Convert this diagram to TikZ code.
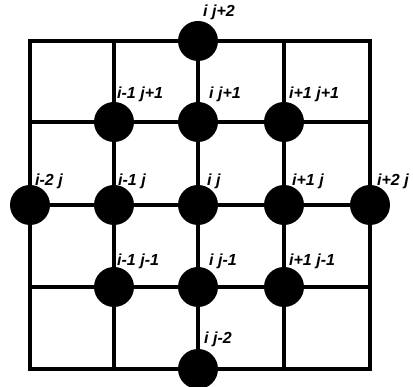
\documentclass[tikz,border=0pt]{standalone}
\usepackage{fontspec}
\setmainfont{Liberation Sans}
\usepackage{tikz}
\usetikzlibrary{positioning,calc}

\begin{document}
\begin{tikzpicture}[x=1pt,y=-1pt,
  gridline/.style={line width=3.5pt, line cap=rect},
  site/.style={circle, fill=black, minimum size=40pt, inner sep=0pt},
  lbl/.style={font=\bfseries\itshape\fontsize{16}{16}\selectfont, anchor=south west, inner sep=0pt}]
\useasboundingbox (0,0) rectangle (413,387);
% mesh
\foreach \x in {30,114,198,284,370}
  \draw[gridline] (\x,41) -- (\x,369);
\foreach \y in {41,122,205,287,369}
  \draw[gridline] (30,\y) -- (370,\y);
% stencil points
\node[site] (n02) at (198,41) {};
\node[site] (m11) at (114,122) {};
\node[site] (n01) at (198,122) {};
\node[site] (p11) at (284,122) {};
\node[site] (m20) at (30,205) {};
\node[site] (m10) at (114,205) {};
\node[site] (n00) at (198,205) {};
\node[site] (p10) at (284,205) {};
\node[site] (p20) at (370,205) {};
\node[site] (m1m1) at (114,287) {};
\node[site] (n0m1) at (198,287) {};
\node[site] (p1m1) at (284,287) {};
\node[site] (n0m2) at (198,369) {};
% indices
\node[lbl] (ln02) at (203,20) {i j+2};
\node[lbl] (lm11) at (117,102) {i-1 j+1};
\node[lbl] (ln01) at (209,102) {i j+1};
\node[lbl] (lp11) at (289,102) {i+1 j+1};
\node[lbl] (lm20) at (35,189) {i-2 j};
\node[lbl] (lm10) at (118,189) {i-1 j};
\node[lbl] (ln00) at (207,189) {i j};
\node[lbl] (lp10) at (292,189) {i+1 j};
\node[lbl] (lp20) at (377,189) {i+2 j};
\node[lbl] (lm1m1) at (117,269) {i-1 j-1};
\node[lbl] (ln0m1) at (209,269) {i j-1};
\node[lbl] (lp1m1) at (289,269) {i+1 j-1};
\node[lbl] (ln0m2) at (204,347) {i j-2};
\end{tikzpicture}
\end{document}
